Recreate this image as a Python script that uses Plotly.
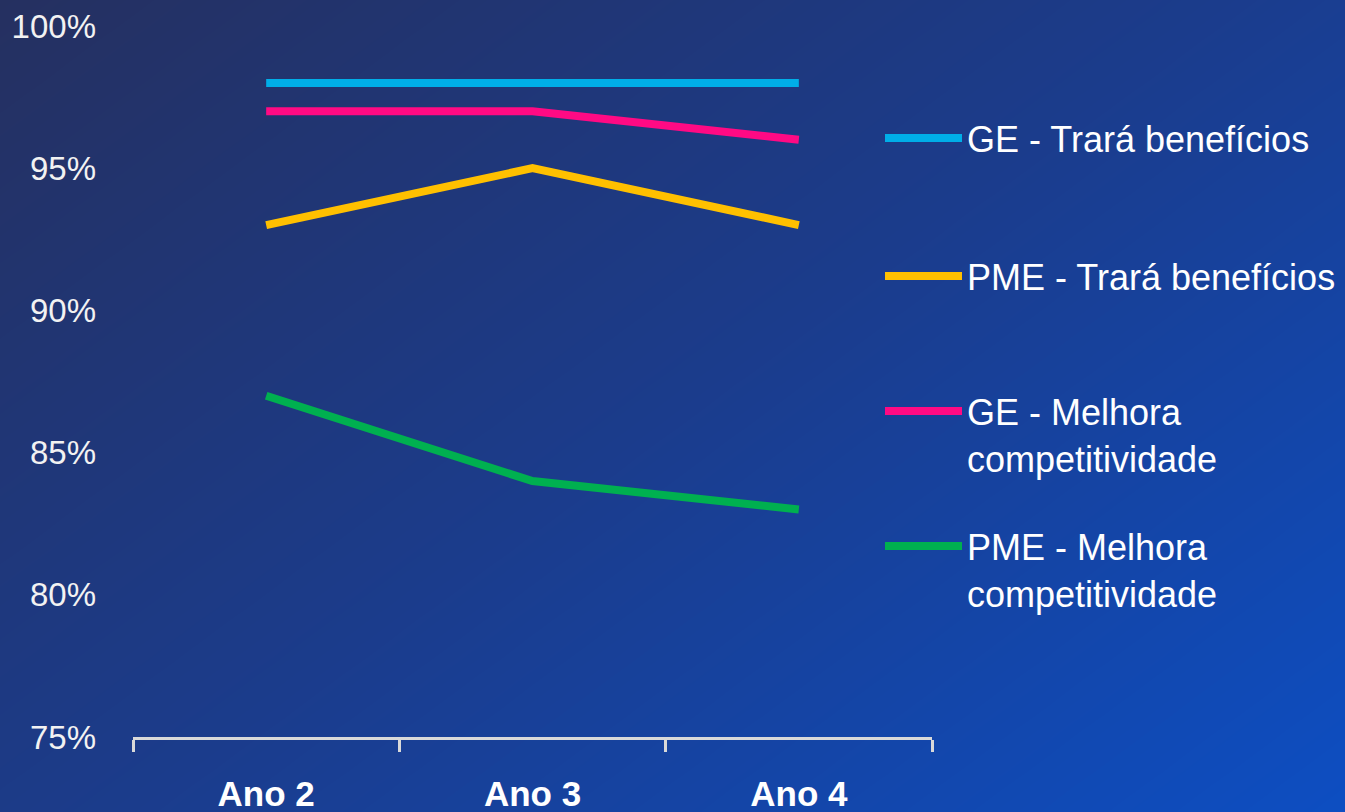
import numpy as np
import plotly.graph_objects as go

categories = ["Ano 2", "Ano 3", "Ano 4"]
ge_beneficios = [98, 98, 98]
ge_competitividade = [97, 97, 96]
pme_beneficios = [93, 95, 93]
pme_competitividade = [87, 84, 83]
series_names = ["GE - Trará benefícios", "PME - Trará benefícios",
                "GE - Melhora<br>competitividade", "PME - Melhora<br>competitividade"]
series_values = [ge_beneficios, pme_beneficios, ge_competitividade, pme_competitividade]
series_colors = ["#00AEE8", "#FFC000", "#FF0A84", "#00B050"]
y_tickvals = [75, 80, 85, 90, 95, 100]
y_ticktext = ["75%", "80%", "85%", "90%", "95%", "100%"]

W, H = 1345, 812
fig = go.Figure()

# background gradient (diagonal, top-left dark navy -> bottom-right royal blue)
n = 60
gx = np.linspace(0, 1, n)
gy = np.linspace(0, 1, n)
X, Y = np.meshgrid(gx, gy)
Z = (X * 0.55 + (1 - Y) * 0.45)
fig.add_trace(go.Heatmap(x=gx, y=gy, z=Z, zsmooth="best", showscale=False,
                         colorscale=[[0, "#253060"], [0.5, "#1b3c8c"], [1, "#0d4ec2"]],
                         hoverinfo="skip", xaxis="x", yaxis="y"))

legend_names = ["legend", "legend2", "legend3", "legend4"]
for name, vals, col, lg in zip(series_names, series_values, series_colors, legend_names):
    fig.add_trace(go.Scatter(x=categories, y=vals, mode="lines", name=name,
                             line=dict(color=col, width=8),
                             xaxis="x2", yaxis="y2", legend=lg))

legend_font = dict(family="Liberation Sans", size=36, color="#FFFFFF")
legend_y = [140, 278, 413, 548]
legends = {}
for lg, yp in zip(legend_names, legend_y):
    legends[lg] = dict(x=880 / W, xanchor="left", y=1 - (yp - 32) / H, yanchor="top",
                       font=legend_font, bgcolor="rgba(0,0,0,0)", borderwidth=0,
                       itemwidth=77, valign="top", tracegroupgap=0)

fig.update_layout(
    width=W, height=H,
    margin=dict(l=0, r=0, t=0, b=0, autoexpand=False),
    paper_bgcolor="#1b3c8c",
    plot_bgcolor="rgba(0,0,0,0)",
    showlegend=True,
    xaxis=dict(domain=[0, 1], range=[0, 1], visible=False, fixedrange=True,
               automargin=False),
    yaxis=dict(domain=[0, 1], range=[0, 1], visible=False, fixedrange=True,
               automargin=False),
    xaxis2=dict(domain=[133 / W, 932 / W], anchor="y2", type="category",
                range=[-0.5, 2.5], showline=True, linecolor="#D9D9D9", linewidth=3,
                ticks="outside", tickson="boundaries", ticklen=12, tickwidth=3,
                tickcolor="#D9D9D9", showgrid=False, zeroline=False,
                automargin=False, ticklabelstandoff=24,
                tickfont=dict(family="Liberation Sans", size=35, color="#FFFFFF",
                              weight="bold")),
    yaxis2=dict(domain=[(H - 737) / H, (H - 26) / H], anchor="x2", range=[75, 100],
                tickvals=y_tickvals, ticktext=y_ticktext, showgrid=False,
                zeroline=False, showline=False, ticks="", ticklabelstandoff=36,
                automargin=False,
                tickfont=dict(family="Liberation Sans", size=33, color="#F2F2F2")),
    **legends,
)

fig.write_html("out.html")
